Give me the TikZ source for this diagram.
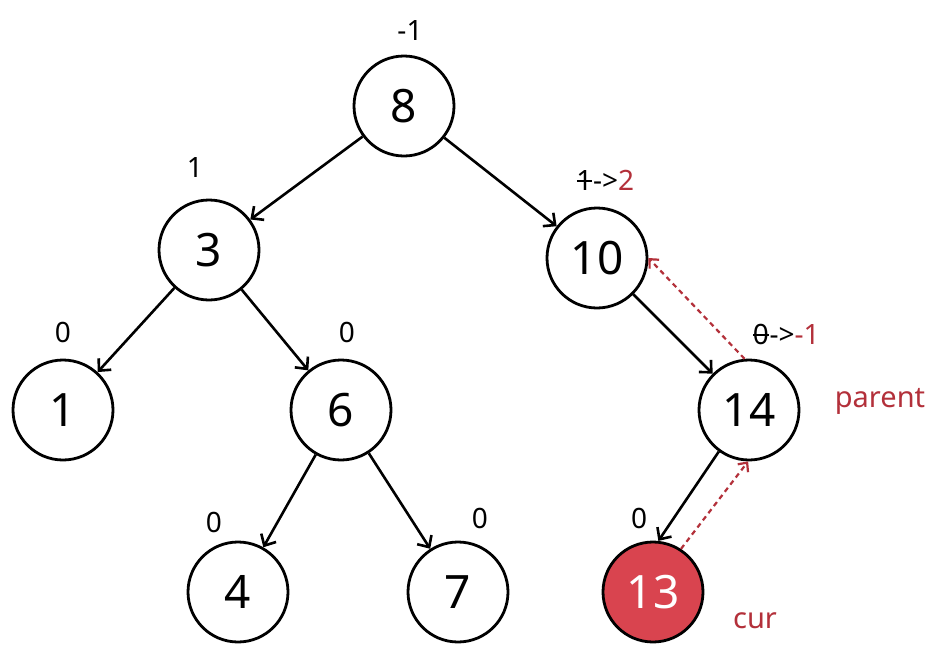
\documentclass[tikz,border=0pt]{standalone}
\usepackage{fontspec}
\setmainfont{Noto Sans}
\usetikzlibrary{arrows.meta}
\definecolor{redtxt}{HTML}{B3303A}
\definecolor{redfill}{HTML}{D9444F}
\newcommand{\strk}[1]{\tikz[baseline=(s.base),x=1pt,y=1pt]{\node[inner sep=0pt,outer sep=0pt](s){#1};\draw[line width=1.8pt]([xshift=0.3pt,yshift=-1pt]s.west)--([xshift=-0.3pt,yshift=-1pt]s.east);}}
\begin{document}
\begin{tikzpicture}[x=1pt,y=-1pt,
  tn/.style={circle,draw,line width=2.8pt,minimum size=100pt,inner sep=0pt,font=\fontsize{46}{50}\selectfont},
  lbl/.style={font=\fontsize{28}{30}\selectfont,inner sep=0pt},
  rlbl/.style={font=\fontsize{29}{32}\selectfont,inner sep=0pt,text=redtxt},
  edge/.style={line width=2.6pt,-{Straight Barb[length=9pt,width=17pt,line width=2.6pt]}},
  red/.style={draw=redtxt,line width=2.2pt,dash pattern=on 5pt off 4pt,-{Straight Barb[length=7pt,width=13pt,line width=2.2pt]}}]
\useasboundingbox (0,0) rectangle (950,648);
\fill[white] (0,0) rectangle (950,648);
\node[tn] (n8) at (404,106) {8};
\node[tn] (n3) at (209,250) {3};
\node[tn] (n10) at (597,258) {10};
\node[tn] (n1) at (63,410) {1};
\node[tn] (n6) at (341,410) {6};
\node[tn] (n14) at (749,410) {14};
\node[tn] (n4) at (238,592) {4};
\node[tn] (n7) at (458,592) {7};
\node[tn,fill=redfill,text=white] (n13) at (653,592) {13};
\draw[edge] (n8) -- (n3);
\draw[edge] (n8) -- (n10);
\draw[edge] (n3) -- (n1);
\draw[edge] (n3) -- (n6);
\draw[edge] (n10) -- (n14);
\draw[edge] (n6) -- (n4);
\draw[edge] (n6) -- (n7);
\draw[edge] (n14.234) -- (n13.84);
\draw[red] (n13.57) -- (n14.-91);
\draw[red] (n14.95) -- (n10.0);
\node[lbl] (l8) at (410,31) {-1};
\node[lbl] (l3) at (195,168) {1};
\node[lbl] (l10) at (605,180) {\strk{1}->\textcolor{redtxt}{2}};
\node[lbl] (l1) at (63,332) {0};
\node[lbl] (l6) at (347,332) {0};
\node[lbl] (l14) at (786,334) {\strk{0}->\textcolor{redtxt}{-1}};
\node[lbl] (l4) at (214,522) {0};
\node[lbl] (l7) at (480,518) {0};
\node[lbl] (l13) at (639,518) {0};
\node[rlbl] (par) at (880,401) {parent};
\node[rlbl] (cur) at (755,621) {cur};
\end{tikzpicture}
\end{document}
